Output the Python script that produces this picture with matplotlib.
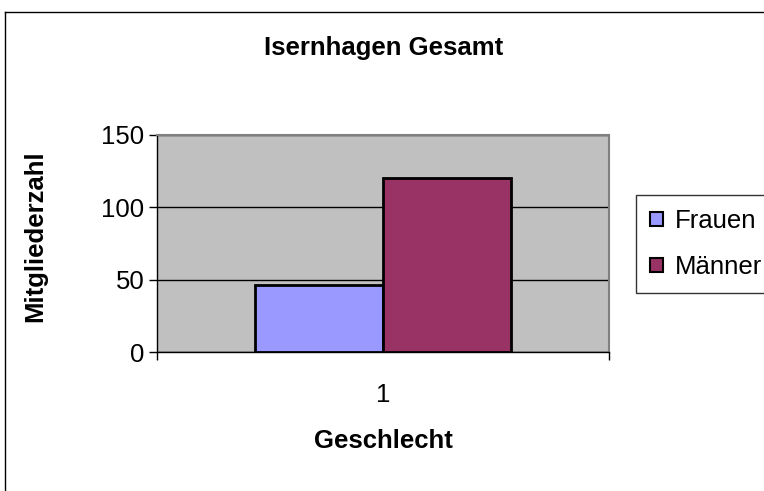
import matplotlib.pyplot as plt
import numpy as np
from matplotlib.lines import Line2D

# Data
categories = ['1']
series_names = ['Frauen', 'Männer']
values = [46, 120]
colors = ['#9999FF', '#993366']
y_ticks = [0, 50, 100, 150]

plt.rcParams['font.family'] = ['Liberation Sans', 'DejaVu Sans']
fs = 18.5

fig = plt.figure(figsize=(7.64, 4.91), dpi=100)
ax = fig.add_axes([157 / 764, 1 - 352 / 491, 452 / 764, 217 / 491])
ax.set_facecolor('#C0C0C0')

x = np.arange(len(categories))
width = 0.283
for i, (name, val) in enumerate(zip(series_names, values)):
    offset = (i - 0.5) * width
    ax.bar(x + offset, [val], width, color=colors[i], edgecolor='black',
           linewidth=2, label=name, zorder=3)

ax.set_xlim(-0.5, 0.5)
ax.set_ylim(0, 150)
ax.set_yticks(y_ticks)
ax.set_xticks(x)
ax.set_xticklabels(categories)
ax.yaxis.grid(True, color='black', linewidth=1, zorder=1)
ax.set_axisbelow(True)

for side in ['top', 'right']:
    ax.spines[side].set_color('#808080')
    ax.spines[side].set_linewidth(1.5)
for side in ['left', 'bottom']:
    ax.spines[side].set_color('black')
    ax.spines[side].set_linewidth(1)

ax.tick_params(axis='y', direction='out', length=6, width=1, labelsize=fs, pad=3)
ax.tick_params(axis='x', length=0, labelsize=fs, pad=22)
# category boundary ticks on the x axis
ax.set_xticks([-0.5, 0.5], minor=True)
ax.tick_params(axis='x', which='minor', direction='out', length=6, width=1)

ax.set_ylabel('Mitgliederzahl', fontsize=fs, fontweight='bold')
ax.yaxis.set_label_coords(-0.27, 0.535)
ax.set_xlabel('Geschlecht', fontsize=fs, fontweight='bold')
ax.xaxis.set_label_coords(0.5, -0.41)
ax.xaxis.label.set_va('center')
ax.yaxis.label.set_va('center')
fig.text(384 / 764, 1 - 48 / 491, 'Isernhagen Gesamt', fontsize=fs,
         fontweight='bold', ha='center', va='center')

leg = ax.legend(loc='upper left', bbox_to_anchor=(636 / 764, 1 - 195 / 491),
                bbox_transform=fig.transFigure, fontsize=fs, frameon=True,
                fancybox=False, handlelength=0.5, handleheight=0.5,
                handletextpad=0.45, borderpad=0.55, labelspacing=0.85,
                borderaxespad=0)
leg.get_frame().set_edgecolor('black')
leg.get_frame().set_linewidth(1)
for h in leg.legend_handles:
    h.set_linewidth(1.5)

# chart area border (extends past the right and bottom edges)
fig.add_artist(Line2D([5 / 764, 5 / 764], [0, 1 - 12 / 491], color='black', linewidth=1))
fig.add_artist(Line2D([5 / 764, 1], [1 - 12 / 491, 1 - 12 / 491], color='black', linewidth=1))

plt.savefig('out.png', dpi=100)
